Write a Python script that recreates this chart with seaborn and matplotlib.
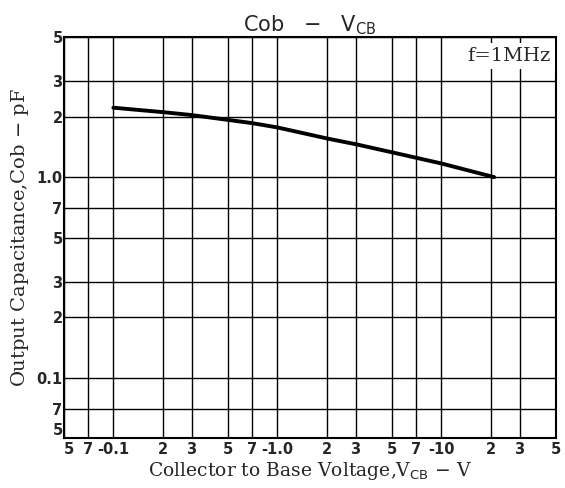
import matplotlib
matplotlib.use("Agg")
import matplotlib.pyplot as plt
import seaborn as sns
import numpy as np
import pandas as pd

# curve (|VCB| in V, Cob in pF)
vcb = [0.1, 0.2, 0.3, 0.5, 0.7, 1.0, 2.0, 3.0, 5.0, 7.0, 10.0, 21.0]
cob = [2.22, 2.11, 2.04, 1.93, 1.86, 1.77, 1.56, 1.46, 1.33, 1.25, 1.17, 1.0]

x_ticks = [0.05, 0.07, 0.1, 0.2, 0.3, 0.5, 0.7, 1, 2, 3, 5, 7, 10, 20, 30, 50]
x_labels = ["5", "7", "-0.1", "2", "3", "5", "7", "-1.0", "2", "3", "5", "7", "-10", "2", "3", "5"]
y_ticks = [0.05, 0.07, 0.1, 0.2, 0.3, 0.5, 0.7, 1, 2, 3, 5]
y_labels = ["5", "7", "0.1", "2", "3", "5", "7", "1.0", "2", "3", "5"]

sns.set_style("white")
plt.rcParams['font.family'] = ['DejaVu Sans']

df = pd.DataFrame({"vcb": vcb, "cob": cob})

fig = plt.figure(figsize=(5.65, 4.88), dpi=100)
ax = fig.add_axes([64/565, 50/488, 492/565, 401/488])

ax.set_xscale("log")
ax.set_yscale("log")
ax.set_xlim(0.05, 50)
ax.set_ylim(0.05, 5)

sns.lineplot(data=df, x="vcb", y="cob", ax=ax, color="black", linewidth=2.8)

ax.set_xticks(x_ticks)
ax.set_xticklabels(x_labels)
ax.set_yticks(y_ticks)
ax.set_yticklabels(y_labels)
ax.minorticks_off()
ax.tick_params(axis="both", length=0, labelsize=10.5, pad=1)
ax.tick_params(axis="x", pad=3)
for lab in ax.get_xticklabels() + ax.get_yticklabels():
    lab.set_fontweight("bold")
# corner labels: keep the two "5"s apart like the datasheet
ax.get_xticklabels()[0].set_horizontalalignment("left")
ax.get_yticklabels()[0].set_verticalalignment("bottom")

ax.grid(True, color="black", linewidth=1.0)
for s in ax.spines.values():
    s.set_color("black")
    s.set_linewidth(1.5)

ax.set_xlabel("Collector to Base Voltage,V$_{\\rm CB}$ $-$ V",
              family="DejaVu Serif", fontsize=13.5, labelpad=2)
ax.set_ylabel("Output Capacitance,Cob $-$ pF",
              family="DejaVu Serif", fontsize=14, labelpad=4)
ax.set_title("Cob   $-$   V$_{\\rm CB}$", fontsize=15, pad=4)

ax.text(0.99, 0.975, "f=1MHz", transform=ax.transAxes, ha="right", va="top",
        family="DejaVu Serif", fontsize=14,
        bbox=dict(facecolor="white", edgecolor="none", pad=3))

fig.savefig("out.png", dpi=100)
plt.close()
